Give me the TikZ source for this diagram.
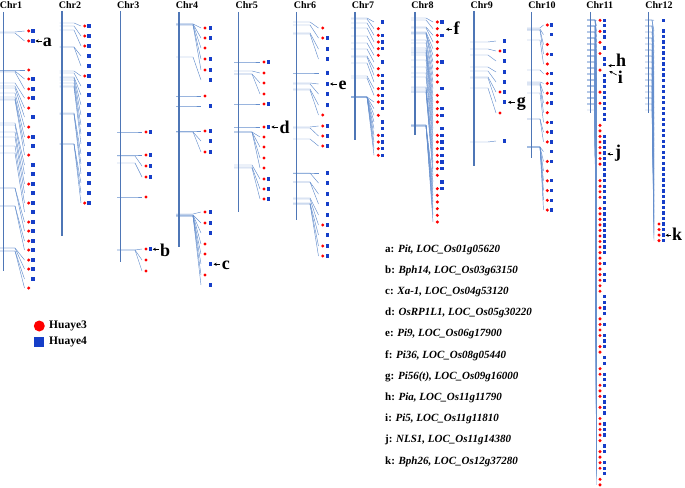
\documentclass[tikz,border=0pt]{standalone}
\usepackage{fontspec}
\setmainfont{Liberation Serif}
\usetikzlibrary{arrows.meta}
\definecolor{connc}{RGB}{100,142,205}
\definecolor{barc}{RGB}{78,118,182}
\definecolor{dotred}{RGB}{255,0,0}
\definecolor{dotblue}{RGB}{22,62,200}
\tikzset{
 conn/.style={draw=connc, line width=0.45pt},
 chrbar/.style={draw=barc, line width=1.5pt},
 rdot/.style={circle, fill=dotred, inner sep=0pt, minimum size=3.4pt},
 bdot/.style={rectangle, fill=dotblue, inner sep=0pt, minimum size=3.3pt},
 chrlabel/.style={font=\bfseries\fontsize{10}{12}\selectfont, anchor=base, inner sep=0pt},
 letter/.style={font=\bfseries\fontsize{18}{20}\selectfont, anchor=base west, inner sep=0pt},
 pointer/.style={-{Stealth[length=3.2pt,width=3.2pt]}, line width=0.6pt},
 keytext/.style={font=\bfseries\fontsize{11}{13}\selectfont, anchor=base west, inner sep=0pt},
 legtext/.style={font=\bfseries\fontsize{11.5}{13}\selectfont, anchor=west, inner sep=0pt},
}
% rows: chr_y / row_y / type (1 red, 2 blue, 3 both)
\newcommand\drawrows[1]{%
 \foreach \cy/\ry/\t [count=\n] in {#1} {
   \draw[conn] (\sx,\cy) -- (\bend,\cy) -- (\ex,\ry);
   \ifodd\t\relax \node[rdot] (r\cid-\n) at (\rx,\ry) {};\fi
   \ifnum\t>1\relax \node[bdot] (b\cid-\n) at (\blx,\ry) {};\fi
 }}
\newcommand\setchr[6]{\def\cid{#1}\def\sx{#2}\def\bend{#3}\def\ex{#4}\def\rx{#5}\def\blx{#6}}
\begin{document}
\begin{tikzpicture}[x=1pt,y=-1pt]
\useasboundingbox (0,0) rectangle (685,487);

% ---------- Chr1
\setchr{1}{0}{15}{24.5}{28.7}{33}
\drawrows{32/31/3,33/41/3,70/70/1,71/79/3,72/89/3,83/98/3,86/108/1,88/117/2,93/127/1,97/137/3,99/146/2,100/155/1,123/165/2,125/174/2,132/184/3,137/193/2,146/203/3,153/212/2,188/222/3,188/231/3,206/241/3,206/250/3,248/260/3,248/269/3,251/279/2,251/288/1}
\draw[chrbar] (3.3,12) coordinate (c1t) -- (3.3,271) coordinate (c1b);
\node[chrlabel] (l1) at (11,8.5) {Chr1};

% ---------- Chr2
\setchr{2}{59.5}{74}{81}{84.7}{89}
\drawrows{23/26/3,26/36/3,30/46/3,47/56/2,47/66/2,71/76/3,73/86/2,77/95/2,78/105/2,80/115/2,83/125/2,86/134/2,87/144/2,113/154/2,114/164/2,114/174/2,144/183/2,144/193/2,144/203/3}
\draw[chrbar] (62,11) coordinate (c2t) -- (62,236) coordinate (c2b);
\node[chrlabel] (l2) at (70,8.5) {Chr2};

% ---------- Chr3
\setchr{3}{117}{135}{142}{146}{150.7}
\drawrows{132/132/3,155/155/3,156/166/3,163/177/3,197/197/1,250/249/3,250/260/1,250/271/1}
\draw[chrbar] (120.7,11) coordinate (c3t) -- (120.7,262) coordinate (c3b);
\node[chrlabel] (l3) at (128.3,8.5) {Chr3};

% ---------- Chr4
\setchr{4}{176}{193}{201}{205}{210.7}
\drawrows{24/28/3,24/38/3,24/48/1,25/59/3,25/70/3,57/80/2,96/96/1,106/106/2,131/131/3,132/141/2,132/152/3,214/212/3,215/223/3,215/233/2,215/244/1,216/254/1,216/264/2,216/275/1,216/285/2}
\draw[chrbar] (179,12) coordinate (c4t) -- (179,247) coordinate (c4b);
\node[chrlabel] (l4) at (187,8.5) {Chr4};

% ---------- Chr5
\setchr{5}{234}{252}{260}{264}{268.7}
\drawrows{62/62/3,71/73/1,74/83/1,74/94/1,104/104/3,127/127/3,132/137/1,132/147/1,132/158/1,132/168/1,165/179/3,167/189/3,168/199/3}
\draw[chrbar] (238.3,12) coordinate (c5t) -- (238.3,212) coordinate (c5b);
\node[chrlabel] (l5) at (246.7,8.5) {Chr5};

% ---------- Chr6
\setchr{6}{293}{310}{318.5}{322.7}{327.3}
\drawrows{22/28/1,25/38/3,33/49/2,34/59/2,73/73/2,83/84/2,84/94/2,89/105/2,90/115/1,127/126/3,128/136/3,139/146/3,173/173/2,173/183/2,182/194/2,182/204/2,198/215/2,199/225/3,203/235/2,204/246/3,204/256/3}
\draw[chrbar] (296.7,12) coordinate (c6t) -- (296.7,220) coordinate (c6b);
\node[chrlabel] (l6) at (305,8.5) {Chr6};

% ---------- Chr7
\setchr{7}{351}{367}{374}{378.3}{382.7}
\drawrows{18/22/2,19/28.7/1,23/35.3/3,28/42/3,36/48.7/3,43/55.3/1,49/62/2,56/68.7/1,57/75.3/3,63/82/2,76/88.7/3,78/95.3/3,97/102/3,97/108.7/2,97/115.3/1,97/122/2,97/128.7/2,97/135.3/3,97/142/3,97/148.7/3,97/155.3/3}
\draw[chrbar] (355,12) coordinate (c7t) -- (355,140) coordinate (c7b);
\node[chrlabel] (l7) at (363,8.5) {Chr7};

% ---------- Chr8
\setchr{8}{411}{426}{433}{437.3}{442}
\drawrows{18/22/3,20/28.7/1,27/35.3/3,28/42/1,32/48.7/1,33/55.3/1,33/62/3,34/68.7/1,40/75.3/1,43/82/1,48/88.7/2,50/95.3/1,52/102/1,53/108.7/3,55/115.3/3,60/122/1,67/128.7/2,73/135.3/3,77/142/3,87/148.7/3,88/155.3/3,90/162/3,92/168.7/3,92/175.3/1,125/182/2,125/188.7/3,125/195.3/1,126/202/1,126/208.7/1,126/215.3/1,126/222/1}
\draw[chrbar] (415,12) coordinate (c8t) -- (415,135) coordinate (c8b);
\node[chrlabel] (l8) at (422.5,8.5) {Chr8};

% ---------- Chr9
\setchr{9}{470}{488}{496}{500}{504.7}
\drawrows{42/41/2,49/51/3,55/61/2,67/72/2,71/82/2,77/92/3,78/102/2,88/113/1,142/141/2}
\draw[chrbar] (474,11) coordinate (c9t) -- (474,166) coordinate (c9b);
\node[chrlabel] (l9) at (481.7,8.5) {Chr9};

% ---------- Chr10
\setchr{10}{527}{540}{543.5}{547.3}{551.7}
\drawrows{28/25/3,29/34.7/2,30/44.5/1,30/54.2/3,40/64/1,70/73.7/3,82/83.4/3,83/93.2/3,84/102.9/3,85/112.7/1,93/122.4/3,119/132.1/3,119/141.9/3,147/151.6/2,147/161.4/3,147/171.1/1,147/180.8/3,147/190.6/3,147/200.3/3,147/210.1/3}
\draw[chrbar] (531.7,12) coordinate (c10t) -- (531.7,158) coordinate (c10b);
\node[chrlabel] (l10) at (542,8.5) {Chr10};

% ---------- Chr11
\foreach \t [count=\n from 0] in {3,2,3,2,1,2,1,2,2,1,2,2,2,3,2,3,2,2,2,1,1,3,3,3,3,3,3,2,2,3,3,3,3,2,3,3,3,3,3,3,3,3,3,1,3,1,3,3,1,1,2,2,3,2,1,3,1,3,2,3,1,2,2,1,3,2,3,1,3,2,3,2,1,3,3,3,1,2,3,1,3,3,2,1,1} {
  \pgfmathsetmacro\ry{20.3+5.53*\n}
  \pgfmathsetmacro\cy{20+6*floor(\n*15/84)}
  \draw[conn] (587,\cy) -- (595,\cy) -- (596.5,\ry);
  \ifodd\t\relax \node[rdot] (r11-\n) at (600,\ry) {};\fi
  \ifnum\t>1\relax \node[bdot] (b11-\n) at (604.3,\ry) {};\fi
}
\draw[chrbar] (590.7,12) coordinate (c11t) -- (590.7,113) coordinate (c11b);
\node[chrlabel] (l11) at (599.7,8.5) {Chr11};

% ---------- Chr12
\foreach \t [count=\n from 0] in {2,2,2,2,2,2,2,2,2,2,2,2,2,2,2,2,2,2,2,2,2,2,2,2,2,2,2,2,2,2,2,2,2,2,2,2,3,3,3,3} {
  \pgfmathsetmacro\ry{\n==0 ? 20.3 : 31+5.515*(\n-1)}
  \pgfmathsetmacro\cy{20+6*floor(\n*15/39)}
  \draw[conn] (645,\cy) -- (652,\cy) -- (654,\ry);
  \ifodd\t\relax \node[rdot] (r12-\n) at (659,\ry) {};\fi
  \ifnum\t>1\relax \node[bdot] (b12-\n) at (663.3,\ry) {};\fi
}
\draw[chrbar] (648.3,12) coordinate (c12t) -- (648.3,113) coordinate (c12b);
\node[chrlabel] (l12) at (659,8.5) {Chr12};

% ---------- gene pointers
\node[letter] (la) at (42.7,46.7) {a};
\coordinate (sa) at (42,41); \coordinate (ta) at (35.5,41);
\draw[pointer] (sa) -- (ta);
\node[letter] (lb) at (160,256.7) {b};
\coordinate (sb) at (159.3,249.3); \coordinate (tb) at (152.7,249.3);
\draw[pointer] (sb) -- (tb);
\node[letter] (lc) at (221.7,269.3) {c};
\coordinate (sc) at (220,264.3); \coordinate (tc) at (213.5,264.3);
\draw[pointer] (sc) -- (tc);
\node[letter] (ld) at (279.3,133.3) {d};
\coordinate (sd) at (278,127); \coordinate (td) at (271.3,127);
\draw[pointer] (sd) -- (td);
\node[letter] (le) at (338.3,89.3) {e};
\coordinate (se) at (337,84); \coordinate (te) at (330,84);
\draw[pointer] (se) -- (te);
\node[letter] (lf) at (453.3,35) {f};
\coordinate (sf) at (451.7,29.3); \coordinate (tf) at (446,29.3);
\draw[pointer] (sf) -- (tf);
\node[letter] (lg) at (516.7,106.7) {g};
\coordinate (sg) at (515,102.3); \coordinate (tg) at (508,102.3);
\draw[pointer] (sg) -- (tg);
\node[letter] (lh) at (616,66.7) {h};
\coordinate (sh) at (615,65.7); \coordinate (th) at (608.3,65.7);
\draw[pointer] (sh) -- (th);
\node[letter] (li) at (617.7,83.3) {i};
\coordinate (si) at (616.7,75); \coordinate (ti) at (609.3,71);
\draw[pointer] (si) -- (ti);
\node[letter] (lj) at (615,157.5) {j};
\coordinate (sj) at (613.3,154); \coordinate (tj) at (607.3,154);
\draw[pointer] (sj) -- (tj);
\node[letter] (lk) at (672,240.7) {k};
\coordinate (sk) at (671,235.3); \coordinate (tk) at (665.5,235.3);
\draw[pointer] (sk) -- (tk);

% ---------- legend
\node[rdot, minimum size=11pt] (legr) at (39.3,326) {};
\node[legtext] (legrt) at (49,326) {Huaye3};
\node[bdot, minimum size=10pt] (legb) at (39.3,342.3) {};
\node[legtext] (legbt) at (49,342.3) {Huaye4};

% ---------- key
\node[keytext] (ka) at (385,252)   {a: \textit{Pit, LOC\_Os01g05620}};
\node[keytext] (kb) at (385,273.2) {b: \textit{Bph14, LOC\_Os03g63150}};
\node[keytext] (kc) at (385,294.4) {c: \textit{Xa-1, LOC\_Os04g53120}};
\node[keytext] (kd) at (385,315.6) {d: \textit{OsRP1L1, LOC\_Os05g30220}};
\node[keytext] (ke) at (385,336.8) {e: \textit{Pi9, LOC\_Os06g17900}};
\node[keytext] (kf) at (385,358)   {f: \textit{Pi36, LOC\_Os08g05440}};
\node[keytext] (kg) at (385,379.2) {g: \textit{Pi56(t), LOC\_Os09g16000}};
\node[keytext] (kh) at (385,400.4) {h: \textit{Pia, LOC\_Os11g11790}};
\node[keytext] (ki) at (385,421.6) {i: \textit{Pi5, LOC\_Os11g11810}};
\node[keytext] (kj) at (385,442.8) {j: \textit{NLS1, LOC\_Os11g14380}};
\node[keytext] (kk) at (385,464)   {k: \textit{Bph26, LOC\_Os12g37280}};
\end{tikzpicture}
\end{document}
